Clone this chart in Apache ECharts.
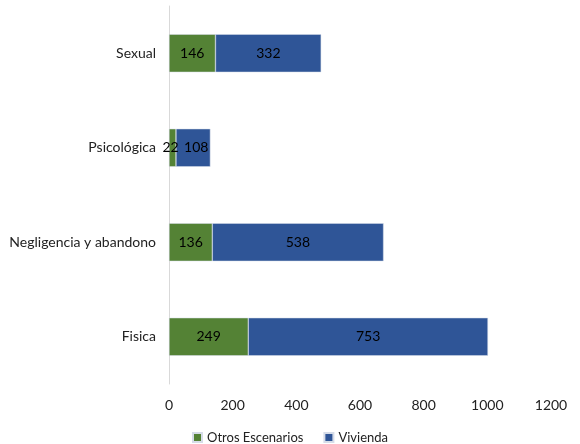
<!DOCTYPE html>
<html><head><meta charset="utf-8">
<script src="https://cdn.jsdelivr.net/npm/echarts@6/dist/echarts.min.js"></script>
<style>html,body{margin:0;padding:0;background:#fff}#c{width:580px;height:444px}</style>
</head><body><div id="c"></div>
<script>
const categories = ['Fisica', 'Negligencia y abandono', 'Psicológica', 'Sexual'];
const otros = [249, 136, 22, 146];
const vivienda = [753, 538, 108, 332];
const seriesNames = ['Otros Escenarios', 'Vivienda'];
const xTicks = {min: 0, max: 1200, interval: 200};

const font = 'Lato, "Open Sans", sans-serif';
// nudge labels of very narrow segments apart so they don't collide
function withLabelNudge(values, dx) {
  return values.map(v => v < 50 || (dx > 0 && values === vivienda && v < 150)
    ? {value: v, label: {offset: [dx, 0]}} : v);
}
const chart = echarts.init(document.getElementById('c'));
chart.setOption({
  animation: false,
  grid: {left: 169, right: 29, top: 6, bottom: 60, containLabel: false},
  legend: {
    data: seriesNames, bottom: 0, left: 'center', padding: 0,
    itemWidth: 9, itemHeight: 9, itemGap: 20, icon: 'rect',
    textStyle: {fontFamily: font, fontSize: 13, color: '#222'}
  },
  xAxis: {
    type: 'value', min: xTicks.min, max: xTicks.max, interval: xTicks.interval,
    axisLine: {show: false}, axisTick: {show: false}, splitLine: {show: false},
    axisLabel: {fontFamily: font, fontSize: 14, color: '#222', margin: 14,
      formatter: v => String(v)}
  },
  yAxis: {
    type: 'category', data: categories,
    axisLine: {show: true, lineStyle: {color: '#d9d9d9', width: 1}},
    axisTick: {show: false},
    axisLabel: {fontFamily: font, fontSize: 14, color: '#222', margin: 13}
  },
  series: [
    {name: seriesNames[0], type: 'bar', stack: 't', data: withLabelNudge(otros, -2), barWidth: 38,
     itemStyle: {color: '#548235', borderColor: '#d6dce8', borderWidth: 0.5},
     label: {show: true, position: 'inside', color: '#000', fontFamily: font, fontSize: 14}},
    {name: seriesNames[1], type: 'bar', stack: 't', data: withLabelNudge(vivienda, 3), barWidth: 38,
     itemStyle: {color: '#2F5597', borderColor: '#d6dce8', borderWidth: 0.5},
     label: {show: true, position: 'inside', color: '#000', fontFamily: font, fontSize: 14}}
  ]
});
</script></body></html>
